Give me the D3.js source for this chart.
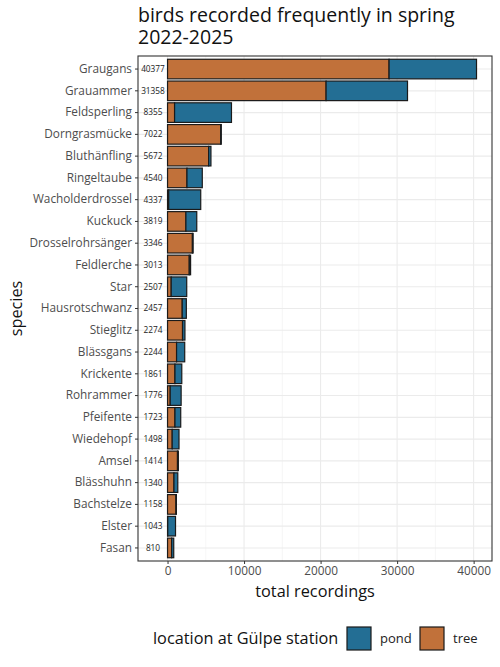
<!DOCTYPE html>
<html>
<head>
<meta charset="utf-8">
<script src="https://cdn.jsdelivr.net/npm/d3@7"></script>
<style>
  body { margin: 0; background: #fff; }
  text { font-family: "Open Sans", "Noto Sans", sans-serif; }
</style>
</head>
<body>
<div id="chart"></div>
<script>
// species ordered by total recordings (top to bottom)
const species = ['Graugans', 'Grauammer', 'Feldsperling', 'Dorngrasmücke', 'Bluthänfling',
    'Ringeltaube', 'Wacholderdrossel', 'Kuckuck', 'Drosselrohrsänger', 'Feldlerche', 'Star',
    'Hausrotschwanz', 'Stieglitz', 'Blässgans', 'Krickente', 'Rohrammer', 'Pfeifente',
    'Wiedehopf', 'Amsel', 'Blässhuhn', 'Bachstelze', 'Elster', 'Fasan']
const totals = [40377, 31358, 8355, 7022, 5672, 4540, 4337, 3819, 3346, 3013, 2507,
    2457, 2274, 2244, 1861, 1776, 1723, 1498, 1414, 1340, 1158, 1043, 810]
const treeValues = [28950, 20720, 920, 6950, 5370, 2540, 150, 2400, 3250, 2840, 480,
    1920, 1960, 1180, 970, 350, 970, 610, 1300, 840, 1100, 30, 530]
const pondValues = totals.map((t, i) => t - treeValues[i])
const locations = ['pond', 'tree']
const xTicks = [0, 10000, 20000, 30000, 40000]

const W = 500, H = 667
const margin = { top: 56, right: 8, bottom: 106, left: 138 }
const colours = { tree: '#c1713a', pond: '#236e94' }

const svg = d3.select('#chart').append('svg')
    .attr('width', W)
    .attr('height', H)

const innerW = W - margin.left - margin.right
const innerH = H - margin.top - margin.bottom

const x = d3.scaleLinear()
    .domain([-3860, 42400])
    .range([margin.left, margin.left + innerW])

// ggplot-like discrete expansion (0.6 of a step on each side, bar width 0.9)
const y = d3.scaleBand()
    .domain(species)
    .range([margin.top, margin.top + innerH])
    .paddingInner(0.1)
    .paddingOuter(0.15)

// title
svg.append('text')
    .attr('x', margin.left)
    .attr('y', 22)
    .style('font-size', '19.5px')
    .attr('fill', '#111')
    .text('birds recorded frequently in spring')
svg.append('text')
    .attr('x', margin.left)
    .attr('y', 44)
    .style('font-size', '19.5px')
    .attr('fill', '#111')
    .text('2022-2025')

// grid
const minorTicks = [5000, 15000, 25000, 35000]
svg.append('g').selectAll('line.minor')
    .data(minorTicks)
    .join('line')
    .attr('x1', d => x(d)).attr('x2', d => x(d))
    .attr('y1', margin.top).attr('y2', margin.top + innerH)
    .attr('stroke', '#f0f0f0').attr('stroke-width', 0.6)
svg.append('g').selectAll('line.major')
    .data(xTicks)
    .join('line')
    .attr('x1', d => x(d)).attr('x2', d => x(d))
    .attr('y1', margin.top).attr('y2', margin.top + innerH)
    .attr('stroke', '#ebebeb').attr('stroke-width', 1.1)
svg.append('g').selectAll('line.hgrid')
    .data(species)
    .join('line')
    .attr('x1', margin.left).attr('x2', margin.left + innerW)
    .attr('y1', d => y(d) + y.bandwidth() / 2).attr('y2', d => y(d) + y.bandwidth() / 2)
    .attr('stroke', '#ebebeb').attr('stroke-width', 1.1)

// stacked bars
const rows = species.map((s, i) => ({ species: s, tree: treeValues[i], pond: pondValues[i] }))
const stack = d3.stack().keys(['tree', 'pond'])(rows)

svg.append('g').selectAll('g')
    .data(stack)
    .join('g')
    .attr('fill', d => colours[d.key])
    .selectAll('rect')
    .data(d => d)
    .join('rect')
    .attr('x', d => x(d[0]))
    .attr('y', d => y(d.data.species))
    .attr('width', d => Math.max(0, x(d[1]) - x(d[0])))
    .attr('height', y.bandwidth())
    .attr('stroke', '#1a1a1a')
    .attr('stroke-width', 1.2)

// total labels
svg.append('g').selectAll('text')
    .data(species)
    .join('text')
    .attr('x', x(-1900))
    .attr('y', d => y(d) + y.bandwidth() / 2)
    .attr('dy', '0.35em')
    .attr('text-anchor', 'middle')
    .style('font-size', '8.3px')
    .attr('fill', '#222')
    .text((d, i) => totals[i])

// panel border
svg.append('rect')
    .attr('x', margin.left)
    .attr('y', margin.top)
    .attr('width', innerW)
    .attr('height', innerH)
    .attr('fill', 'none')
    .attr('stroke', '#333')
    .attr('stroke-width', 1.1)

// y axis
const yAxis = svg.append('g')
    .attr('transform', `translate(${margin.left},0)`)
    .call(d3.axisLeft(y).tickSize(3).tickPadding(3))
yAxis.select('.domain').remove()
yAxis.selectAll('line').attr('stroke', '#333')
yAxis.selectAll('text')
    .style('font-size', '11.8px')
    .style('font-family', '"Open Sans", "Noto Sans", sans-serif')
    .attr('fill', '#4d4d4d')

// x axis
const xAxis = svg.append('g')
    .attr('transform', `translate(0,${margin.top + innerH})`)
    .call(d3.axisBottom(x).tickValues(xTicks).tickFormat(d3.format('d')).tickSize(3).tickPadding(3))
xAxis.select('.domain').remove()
xAxis.selectAll('line').attr('stroke', '#333')
xAxis.selectAll('text')
    .style('font-size', '11.8px')
    .style('font-family', '"Open Sans", "Noto Sans", sans-serif')
    .attr('fill', '#4d4d4d')

// axis titles
svg.append('text')
    .attr('x', margin.left + innerW / 2)
    .attr('y', 597)
    .attr('text-anchor', 'middle')
    .style('font-size', '16.3px')
    .attr('fill', '#111')
    .text('total recordings')
svg.append('text')
    .attr('transform', `translate(22,${margin.top + innerH / 2}) rotate(-90)`)
    .attr('text-anchor', 'middle')
    .style('font-size', '16.3px')
    .attr('fill', '#111')
    .text('species')

// legend
const legend = svg.append('g')
legend.append('text')
    .attr('x', 153)
    .attr('y', 638)
    .attr('dy', '0.35em')
    .style('font-size', '16.3px')
    .attr('fill', '#111')
    .text('location at Gülpe station')
const keyX = { pond: 347, tree: 420 }
locations.forEach(loc => {
    legend.append('rect')
        .attr('x', keyX[loc])
        .attr('y', 627)
        .attr('width', 24)
        .attr('height', 23)
        .attr('fill', colours[loc])
        .attr('stroke', '#1a1a1a')
        .attr('stroke-width', 1.2)
    legend.append('text')
        .attr('x', keyX[loc] + 33)
        .attr('y', 638)
        .attr('dy', '0.35em')
        .style('font-size', '13px')
        .attr('fill', '#222')
        .text(loc)
})
</script>
</body>
</html>
